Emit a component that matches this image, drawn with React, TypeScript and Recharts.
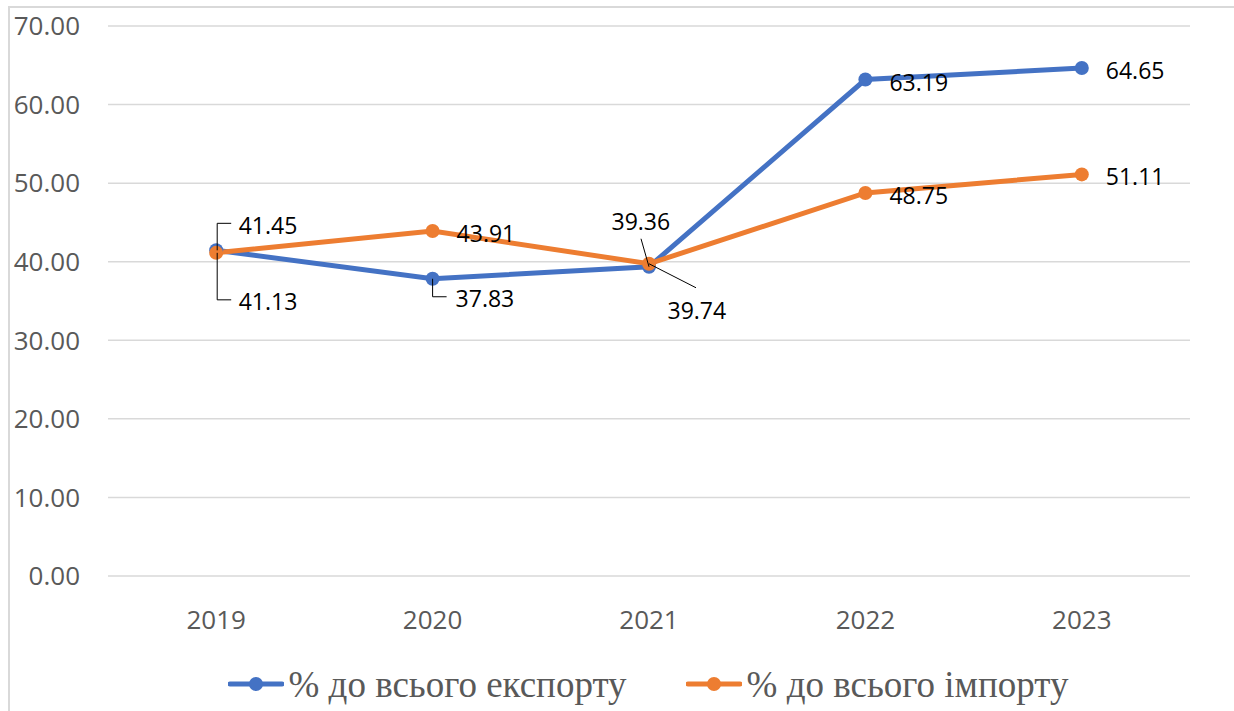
import React from "react";
import { LineChart, Line, XAxis, YAxis, CartesianGrid, Legend, LabelList } from "recharts";

// values
const years = ["2019", "2020", "2021", "2022", "2023"];
const exportShare = [41.45, 37.83, 39.36, 63.19, 64.65];
const importShare = [41.13, 43.91, 39.74, 48.75, 51.11];
const yTicks = [0, 10, 20, 30, 40, 50, 60, 70];

const seriesNames = ["% до всього експорту", "% до всього імпорту"];
const BLUE = "#4472C4";
const ORANGE = "#ED7D31";

const data = years.map((year, i) => ({
    year,
    exp: exportShare[i],
    imp: importShare[i],
}));

type Place = { dx: number; dy: number; path?: [number, number][] };

const RIGHT: Place = { dx: 24, dy: 2 };

// how each data label is placed (Excel moved a few of them by hand)
const expPlaces: Place[] = [
    { dx: 22.5, dy: -25, path: [[1, 0], [1, -27], [15, -27]] },
    { dx: 23, dy: 19, path: [[0, 0], [0, 18], [14, 18]] },
    { dx: -37.5, dy: -46, path: [[0, 0], [-8, -28]] },
    RIGHT,
    RIGHT,
];
const impPlaces: Place[] = [
    { dx: 22.5, dy: 48, path: [[1, 0], [1, 47], [15, 47]] },
    RIGHT,
    { dx: 18.5, dy: 46, path: [[0, 0], [47, 24]] },
    RIGHT,
    RIGHT,
];

const makeLabel = (places: Place[]) => (props: any) => {
    const { x, y, value, index } = props;
    const p = places[index] ?? RIGHT;
    return (
        <g>
            {p.path && (
                <polyline
                    points={p.path.map(([a, b]) => `${x + a},${y + b}`).join(" ")}
                    fill="none"
                    stroke="#000"
                    strokeWidth={1}
                />
            )}
            <text
                x={x + p.dx}
                y={y + p.dy}
                dominantBaseline="central"
                fontFamily="'Open Sans', sans-serif"
                fontSize={23}
                fill="#000"
            >
                {Number(value).toFixed(2)}
            </text>
        </g>
    );
};

function LegendIcon({ color }: { color: string }) {
    return (
        <svg width={56} height={16} style={{ display: "block", marginRight: 5 }}>
            <line x1={2} y1={8} x2={54} y2={8} stroke={color} strokeWidth={5} strokeLinecap="round" />
            <circle cx={28} cy={8} r={7} fill={color} />
        </svg>
    );
}

function LegendBox() {
    const colors = [BLUE, ORANGE];
    return (
        <div
            style={{
                display: "flex",
                justifyContent: "center",
                alignItems: "center",
                height: 60,
                paddingTop: 6,
                boxSizing: "border-box",
                paddingLeft: 106,
            }}
        >
            {seriesNames.map((name, i) => (
                <div key={name} style={{ display: "flex", alignItems: "center", marginRight: i === 0 ? 59 : 0 }}>
                    <LegendIcon color={colors[i]} />
                    <span
                        style={{
                            fontFamily: "'Liberation Serif', 'Times New Roman', serif",
                            fontSize: 37,
                            color: "#595959",
                            lineHeight: 1,
                        }}
                    >
                        {name}
                    </span>
                </div>
            ))}
        </div>
    );
}

export default function App() {
    const tickStyle = { fontFamily: "'Open Sans', sans-serif", fontSize: 26, fill: "#595959" };
    return (
        <div style={{ position: "absolute", left: 0, top: 0, width: 1234, height: 711, background: "#fff" }}>
            <div
                style={{
                    position: "absolute",
                    left: 8,
                    top: 6,
                    width: 1226,
                    height: 705,
                    borderTop: "2px solid #d9d9d9",
                    borderLeft: "2px solid #d9d9d9",
                    boxSizing: "border-box",
                }}
            />
            <LineChart
                width={1234}
                height={711}
                data={data}
                margin={{ top: 26, right: 44, left: 0, bottom: 0 }}
                style={{ position: "absolute", left: 0, top: 0 }}
            >
                <CartesianGrid vertical={false} stroke="#d9d9d9" strokeWidth={1.5} />
                <XAxis
                    dataKey="year"
                    scale="band"
                    axisLine={false}
                    tickLine={false}
                    tickSize={0}
                    tickMargin={35}
                    height={75}
                    tick={tickStyle}
                    interval={0}
                />
                <YAxis
                    domain={[0, 70]}
                    ticks={yTicks}
                    axisLine={false}
                    tickLine={false}
                    tickSize={0}
                    tickMargin={28}
                    width={108}
                    tick={tickStyle}
                    tickFormatter={(v: number) => v.toFixed(2)}
                />
                <Legend verticalAlign="bottom" height={60} content={() => <LegendBox />} />
                <Line
                    dataKey="exp"
                    name={seriesNames[0]}
                    stroke={BLUE}
                    strokeWidth={5}
                    dot={{ r: 7, fill: BLUE, stroke: "none" }}
                    activeDot={false}
                    isAnimationActive={false}
                >
                    <LabelList dataKey="exp" content={makeLabel(expPlaces)} />
                </Line>
                <Line
                    dataKey="imp"
                    name={seriesNames[1]}
                    stroke={ORANGE}
                    strokeWidth={5}
                    dot={{ r: 7, fill: ORANGE, stroke: "none" }}
                    activeDot={false}
                    isAnimationActive={false}
                >
                    <LabelList dataKey="imp" content={makeLabel(impPlaces)} />
                </Line>
            </LineChart>
        </div>
    );
}
